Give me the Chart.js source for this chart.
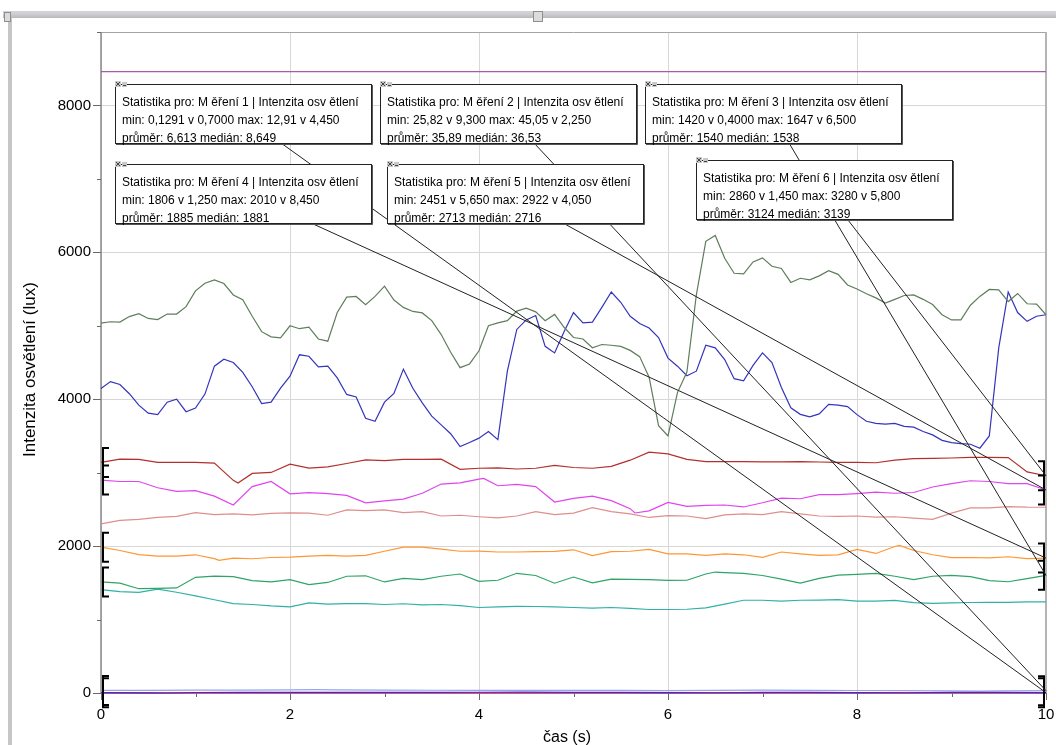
<!DOCTYPE html>
<html>
<head>
<meta charset="utf-8">
<title>Intenzita osvětlení</title>
<script src="https://cdn.jsdelivr.net/npm/chart.js@4.4.1/dist/chart.umd.min.js"></script>
<style>
  html, body { margin: 0; padding: 0; background: #fff; }
  #wrap { width: 1056px; height: 745px; }
</style>
</head>
<body>
<div id="wrap"><canvas id="c" width="1056" height="745"></canvas></div>
<script>
// ---- sampling clocks (s) ----
const STEP_FINE = 0.1, STEP_MID = 0.2, STEP_HALF = 0.5, STEP_ONE = 1;
const clock = step => Array.from({ length: Math.round(10 / step) + 1 }, (_, i) => +(i * step).toFixed(2));
const tFine = clock(STEP_FINE);
const tMid = clock(STEP_MID);
const tHalf = clock(STEP_HALF);
const tOne = clock(STEP_ONE);

// ---- tick labels ----
const xTickLabels = [0, 2, 4, 6, 8, 10];
const yTickLabels = [0, 2000, 4000, 6000, 8000];

// ---- runs without statistics (lux) ----
const runGrey = [
  5037, 5055, 5050, 5125, 5165, 5100, 5085, 5160, 5160, 5260,
  5475, 5580, 5625, 5575, 5420, 5355, 5130, 4920, 4850, 4834,
  5000, 4960, 4980, 4820, 4790, 5180, 5390, 5399, 5286, 5400,
  5540, 5350, 5250, 5195, 5175, 5070, 4880, 4640, 4430, 4480,
  4660, 5000, 5040, 5070, 5200, 5240, 5190, 5070, 5155, 4980,
  4840, 4820, 4700, 4745, 4735, 4720, 4665, 4580, 4300, 3640,
  3500, 4090, 4370, 5420, 6150, 6230, 5920, 5715, 5707, 5870,
  5925, 5810, 5780, 5590, 5647, 5625, 5680, 5750, 5700, 5555,
  5500, 5435, 5380, 5310, 5360, 5412, 5420, 5360, 5290, 5150,
  5080, 5080, 5280, 5400, 5495, 5490, 5330, 5440, 5300, 5295,
  5150
];
const runBlue = [
  4147, 4240, 4200, 4075, 3920, 3810, 3790, 3960, 4000, 3830,
  3880, 4070, 4450, 4545, 4500, 4365, 4170, 3940, 3961, 4150,
  4314, 4605, 4585, 4440, 4450, 4291, 4065, 4030, 3740, 3700,
  3960, 4080, 4410, 4150, 3950, 3770, 3650, 3530, 3355, 3410,
  3470, 3560, 3450, 4382, 4950, 5080, 5140, 4720, 4630, 4920,
  5180, 5040, 5050, 5250, 5460, 5320, 5130, 5030, 4970, 4840,
  4560, 4450, 4320, 4382, 4735, 4700, 4540, 4280, 4250, 4460,
  4630, 4500, 4160, 3884, 3794, 3760, 3800, 3930, 3920, 3900,
  3790, 3700, 3670, 3660, 3670, 3630, 3620, 3560, 3514, 3440,
  3410, 3395, 3387, 3333, 3500, 4700, 5460, 5180, 5060, 5130,
  5150
];
const runRose = [
  2303, 2350, 2365, 2390, 2406, 2455, 2430, 2440, 2425, 2445,
  2453, 2450, 2420, 2493, 2483, 2493, 2455, 2470, 2410, 2420,
  2400, 2385, 2410, 2470, 2430, 2450, 2525, 2470, 2440, 2390,
  2415, 2410, 2375, 2425, 2440, 2430, 2470, 2440, 2410, 2406,
  2410, 2395, 2400, 2380, 2365, 2450, 2520, 2520, 2538, 2530,
  2529
];
const runTeal = [
  1408, 1380, 1370, 1415, 1372, 1322, 1270, 1218, 1205, 1186,
  1173, 1227, 1209, 1218, 1218, 1205, 1215, 1200, 1205, 1190,
  1164, 1173, 1180, 1178, 1173, 1164, 1155, 1164, 1152, 1137,
  1137, 1140, 1158, 1210, 1263, 1263, 1250, 1263, 1265, 1272,
  1252, 1250, 1260, 1230, 1220, 1228, 1232, 1235, 1235, 1240,
  1240
];
const runViolet = [8460, 8460, 8460, 8460, 8460, 8460, 8460, 8460, 8460, 8460, 8460];
const runZero = [0, 1, 0, 2, 1, 0, 1, 0, 2, 1, 0];

// ---- measurements with statistics (lux) ----
const m1 = [4.2, 2.1, 6.5, 8.8, 9.1, 8.6, 9.4, 7.9, 10.2, 11.4, 8.9, 7.2, 4.1, 3.6, 8.7, 9.0, 5.3, 3.2, 8.6, 9.2, 4.4];
const m2 = [34.5, 36.8, 38.2, 39.5, 41.3, 43.6, 40.1, 37.4, 36.5, 35.2, 36.9, 34.8, 33.6, 35.1, 37.8, 36.2, 34.1, 32.5, 30.2, 28.4, 31.6];
const m3 = [
  1512, 1495, 1440, 1425, 1430, 1575, 1590, 1585, 1530, 1512,
  1543, 1475, 1505, 1590, 1596, 1512, 1560, 1543, 1590, 1620,
  1520, 1535, 1630, 1600, 1495, 1579, 1500, 1550, 1548, 1545,
  1534, 1535, 1620, 1640, 1630, 1600, 1550, 1495, 1560, 1605,
  1615, 1630, 1590, 1543, 1590, 1602, 1585, 1530, 1515, 1557,
  1602
];
const m4 = [
  1986, 1940, 1885, 1864, 1864, 1882, 1830, 1836, 1828, 1845,
  1850, 1864, 1873, 1864, 1873, 1930, 1985, 1985, 1960, 1930,
  1932, 1920, 1920, 1925, 1928, 1950, 1870, 1925, 1930, 1955,
  1895, 1895, 1875, 1895, 1882, 1846, 1920, 1895, 1873, 1880,
  1954, 1900, 1995, 1940, 1882, 1842, 1845, 1840, 1855, 1830,
  1837
];
const m5 = [
  2899, 2880, 2880, 2795, 2745, 2755, 2680, 2560, 2810, 2880,
  2712, 2727, 2715, 2690, 2590, 2615, 2640, 2720, 2845, 2860,
  2913, 2822, 2840, 2810, 2600, 2650, 2680, 2620, 2510, 2480,
  2596, 2540, 2555, 2560, 2533, 2590, 2653, 2645, 2700, 2700,
  2715, 2735, 2720, 2730, 2805, 2850, 2890, 2880, 2850, 2850,
  2764
];
const m6 = [
  3139, 3184, 3180, 3140, 3139, 3139, 3130, 2895, 2990, 3003,
  3115, 3062, 3080, 3125, 3175, 3165, 3180, 3180, 3184, 3045,
  3060, 3065, 3050, 3060, 3100, 3070, 3060, 3085, 3170, 3275,
  3255, 3180, 3150, 3150, 3150, 3147, 3147, 3150, 3145, 3140,
  3139, 3135, 3170, 3190, 3195, 3200, 3207, 3207, 3205, 3010,
  2958
];

// statistics: [time s, lux] for min and max
const statNames = ['1', '2', '3', '4', '5', '6'];
const statMin = [[0.7, 0.1291], [9.3, 25.82], [0.4, 1420], [1.25, 1806], [5.65, 2451], [1.45, 2860]];
const statMax = [[4.45, 12.91], [2.25, 45.05], [6.5, 1647], [8.45, 2010], [4.05, 2922], [5.8, 3280]];
const statMean = [6.613, 35.89, 1540, 1885, 2713, 3124];
const statMedian = [8.649, 36.53, 1538, 1881, 2716, 3139];

// ---- styling ----
const FONT = '"Liberation Sans", Arial, sans-serif';
const colors = {
  grey: '#5f7d5c', blue: '#3434bc', rose: '#df8e8e', teal: '#2fb1a8', violet: '#a75aa8', zero: '#ff3a5a',
  m1: '#2a33d6', m2: '#9ca0ee', m3: '#2ea466', m4: '#ff9633', m5: '#e144ee', m6: '#b3302c'
};
// stat boxes: canvas px of the top-left corner and where the leader line leaves the box
const boxes = [
  { left: 115, top: 84, ax: 281, ay: 143 },
  { left: 380, top: 84, ax: 534, ay: 143 },
  { left: 645, top: 84, ax: 789, ay: 143 },
  { left: 115, top: 164, ax: 311, ay: 223 },
  { left: 387, top: 164, ax: 563, ay: 223 },
  { left: 696, top: 160, ax: 848, ay: 220 }
];
const BOX_W = 256, BOX_H = 59;

// ---- data assembly ----
function points(times, values, extra) {
  const pts = times.map((t, i) => ({ x: t, y: values[i] }));
  (extra || []).forEach(([t, v]) => {
    const hit = pts.find(p => Math.abs(p.x - t) < 1e-9);
    if (hit) hit.y = v; else pts.push({ x: t, y: v });
  });
  return pts.sort((a, b) => a.x - b.x);
}
const measured = [
  points(tHalf, m1, [statMin[0], statMax[0]]),
  points(tHalf, m2, [statMin[1], statMax[1]]),
  points(tMid, m3, [statMin[2], statMax[2]]),
  points(tMid, m4, [statMin[3], statMax[3]]),
  points(tMid, m5, [statMin[4], statMax[4]]),
  points(tMid, m6, [statMin[5], statMax[5]])
];
const measuredColors = [colors.m1, colors.m2, colors.m3, colors.m4, colors.m5, colors.m6];

function line(data, color, width) {
  return { data, borderColor: color, borderWidth: width || 1.2, pointRadius: 0, tension: 0, fill: false, clip: false };
}
const datasets = [
  line(points(tOne, runViolet), colors.violet),
  line(points(tFine, runGrey), colors.grey),
  line(points(tFine, runBlue), colors.blue),
  line(points(tMid, runRose), colors.rose),
  line(points(tMid, runTeal), colors.teal),
  ...measured.map((d, i) => line(d, measuredColors[i])),
  line(points(tOne, runZero), colors.zero, 1.6)
];

const fmt = v => v.toPrecision(4).replace('.', ',');

// ---- frame, axes, brackets, leader lines and stat boxes ----
const decorations = {
  id: 'decorations',
  beforeDraw(chart) {
    const c = chart.ctx;
    c.save();
    c.fillStyle = '#fff';
    c.fillRect(0, 0, chart.width, chart.height);
    // window bars
    const g = c.createLinearGradient(0, 11, 0, 18);
    g.addColorStop(0, '#cfcfe6');
    g.addColorStop(0.25, '#d4d4d4');
    g.addColorStop(1, '#b9b9b9');
    c.fillStyle = g;
    c.fillRect(3, 11, chart.width - 3, 7);
    c.fillStyle = '#c6c6c6';
    c.fillRect(8, 18, 4, chart.height - 18);
    c.fillStyle = '#dcdcdc';
    c.strokeStyle = '#8e8e8e';
    c.lineWidth = 1;
    c.fillRect(4.5, 12.5, 6, 9); c.strokeRect(4.5, 12.5, 6, 9);
    c.fillRect(533.5, 11.5, 9, 10); c.strokeRect(533.5, 11.5, 9, 10);
    c.restore();
  },
  beforeDatasetsDraw(chart) {
    const c = chart.ctx, a = chart.chartArea, xs = chart.scales.x, ys = chart.scales.y;
    c.save();
    // frame
    c.strokeStyle = '#a4a4a4';
    c.lineWidth = 1;
    c.beginPath();
    c.moveTo(a.left, a.top + 0.5); c.lineTo(a.right, a.top + 0.5);
    c.stroke();
    c.strokeStyle = '#b4b4b4';
    c.lineWidth = 2;
    c.beginPath();
    c.moveTo(a.right, a.top); c.lineTo(a.right, a.bottom);
    c.stroke();
    c.strokeStyle = '#8a8a8a';
    c.lineWidth = 1.5;
    c.beginPath();
    c.moveTo(a.left, a.top); c.lineTo(a.left, a.bottom); c.lineTo(a.right, a.bottom);
    c.stroke();
    // tick marks
    c.strokeStyle = '#6a6a6a';
    c.lineWidth = 1;
    c.beginPath();
    for (let v = 0; v <= 9000; v += 1000) {
      const y = Math.round(ys.getPixelForValue(v)) + 0.5;
      const len = yTickLabels.includes(v) ? 8 : 4;
      c.moveTo(a.left - len, y); c.lineTo(a.left, y);
    }
    for (let t = 0; t <= 10; t += 1) {
      const x = Math.round(xs.getPixelForValue(t)) + 0.5;
      const len = xTickLabels.includes(t) ? 7 : 4;
      c.moveTo(x, a.bottom); c.lineTo(x, a.bottom + len);
    }
    c.stroke();
    c.restore();
  },
  afterDatasetsDraw(chart) {
    const c = chart.ctx, xs = chart.scales.x, ys = chart.scales.y;
    c.save();
    // statistics brackets at both ends of each measured run
    c.strokeStyle = '#000';
    c.lineWidth = 2;
    measured.forEach(d => {
      const ends = [[d[0], 1], [d[d.length - 1], -1]];
      ends.forEach(([p, dir]) => {
        const x = xs.getPixelForValue(p.x) + dir * 2;
        const y = ys.getPixelForValue(p.y);
        c.beginPath();
        c.moveTo(x + dir * 6, y - 14.5);
        c.lineTo(x, y - 14.5);
        c.lineTo(x, y + 14.5);
        c.lineTo(x + dir * 6, y + 14.5);
        c.stroke();
      });
    });
    // leader lines from boxes to the end of each run
    c.strokeStyle = '#222';
    c.lineWidth = 1;
    measured.forEach((d, i) => {
      const p = d[d.length - 1];
      c.beginPath();
      c.moveTo(boxes[i].ax, boxes[i].ay);
      c.lineTo(xs.getPixelForValue(p.x), ys.getPixelForValue(p.y));
      c.stroke();
    });
    // stat boxes
    c.font = '12px ' + FONT;
    c.textBaseline = 'middle';
    boxes.forEach((b, i) => {
      c.fillStyle = '#fff';
      c.fillRect(b.left, b.top, BOX_W, BOX_H);
      c.strokeStyle = '#555';
      c.lineWidth = 1;
      c.beginPath();
      c.moveTo(b.left + BOX_W + 1.5, b.top + 1); c.lineTo(b.left + BOX_W + 1.5, b.top + BOX_H + 1.5);
      c.lineTo(b.left + 1, b.top + BOX_H + 1.5);
      c.stroke();
      c.strokeStyle = '#222';
      c.strokeRect(b.left + 0.5, b.top + 0.5, BOX_W, BOX_H);
      // close / minimise buttons
      c.fillStyle = '#c8c8c8';
      c.fillRect(b.left, b.top - 3, 6, 6);
      c.fillRect(b.left + 7, b.top - 2, 5, 5);
      c.strokeStyle = '#444';
      c.beginPath();
      c.moveTo(b.left + 1, b.top - 2); c.lineTo(b.left + 5, b.top + 2);
      c.moveTo(b.left + 5, b.top - 2); c.lineTo(b.left + 1, b.top + 2);
      c.moveTo(b.left + 8, b.top + 1.5); c.lineTo(b.left + 11, b.top + 1.5);
      c.stroke();
      c.fillStyle = '#000';
      const lines = [
        'Statistika pro: M ěření ' + statNames[i] + ' | Intenzita osv ětlení',
        'min: ' + fmt(statMin[i][1]) + ' v ' + fmt(statMin[i][0]) + ' max: ' + fmt(statMax[i][1]) + ' v ' + fmt(statMax[i][0]),
        'průměr: ' + fmt(statMean[i]) + ' medián: ' + fmt(statMedian[i])
      ];
      lines.forEach((s, k) => c.fillText(s, b.left + 7, b.top + 19 + k * 18));
    });
    c.restore();
  },
  afterDraw(chart) {
    const c = chart.ctx;
    c.save();
    c.fillStyle = '#000';
    c.font = '16px ' + FONT;
    c.textAlign = 'center';
    c.textBaseline = 'middle';
    c.fillText('čas (s)', 567, 738);
    c.font = '17px ' + FONT;
    c.translate(30, 457);
    c.rotate(-Math.PI / 2);
    c.textAlign = 'left';
    c.fillText('Intenzita osvětlení (lux)', 0, 0);
    c.restore();
  }
};

new Chart(document.getElementById('c'), {
  type: 'line',
  data: { datasets },
  options: {
    responsive: false,
    animation: false,
    devicePixelRatio: 1,
    layout: { padding: { top: 32, right: 10, bottom: 0, left: 0 } },
    plugins: { legend: { display: false }, tooltip: { enabled: false } },
    scales: {
      x: {
        type: 'linear', min: 0, max: 10,
        border: { display: false },
        grid: {
          drawTicks: false,
          color: ctx => (ctx.tick && xTickLabels.includes(ctx.tick.value)) ? '#d7d7d7' : 'rgba(0,0,0,0)'
        },
        ticks: {
          stepSize: 1, autoSkip: false, maxRotation: 0, padding: 13, color: '#000',
          font: { family: FONT, size: 15 },
          callback: v => xTickLabels.includes(v) ? String(v) : ''
        },
        afterFit: s => { s.height = 52; s.paddingLeft = 0; s.paddingRight = 0; }
      },
      y: {
        min: 0, max: 9000,
        border: { display: false },
        grid: {
          drawTicks: false,
          color: ctx => (ctx.tick && yTickLabels.includes(ctx.tick.value)) ? '#d7d7d7' : 'rgba(0,0,0,0)'
        },
        ticks: {
          stepSize: 1000, autoSkip: false, padding: 10, color: '#000',
          font: { family: FONT, size: 15 },
          callback: v => yTickLabels.includes(v) ? String(v) : ''
        },
        afterFit: s => { s.width = 101; s.paddingTop = 0; s.paddingBottom = 0; }
      }
    }
  },
  plugins: [decorations]
});
</script>
</body>
</html>
